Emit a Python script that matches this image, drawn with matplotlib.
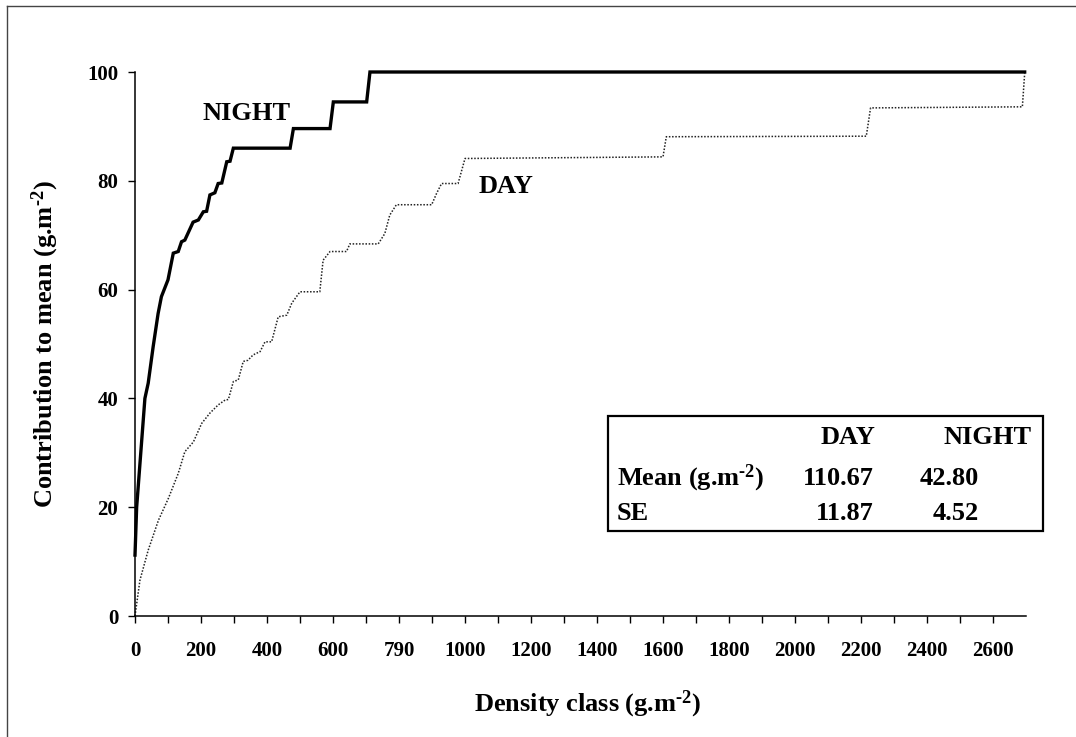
import matplotlib
matplotlib.use("Agg")
import matplotlib.pyplot as plt
from matplotlib.lines import Line2D
from matplotlib.patches import Rectangle

plt.rcParams["font.family"] = ["Liberation Serif", "DejaVu Serif"]
plt.rcParams["font.weight"] = "bold"
plt.rcParams["mathtext.fontset"] = "custom"
plt.rcParams["mathtext.rm"] = "Liberation Serif:bold"
plt.rcParams["mathtext.default"] = "rm"

# cumulative contribution to the mean, by density class (g.m-2)
night_x = [0, 5, 30, 40, 55, 70, 80, 100, 116, 131, 141, 151, 176, 192, 207, 217,
           227, 242, 252, 263, 278, 288, 298, 470, 480, 591, 601, 702, 712, 2696]
night_y = [11.2, 20, 40, 42.8, 49.5, 55.6, 58.7, 61.8, 66.7, 67.0, 68.8, 69.1, 72.4,
           72.8, 74.3, 74.4, 77.4, 77.8, 79.5, 79.6, 83.5, 83.6, 86.0, 86.0, 89.6,
           89.6, 94.5, 94.5, 100, 100]

day_x = [0, 15, 40, 71, 101, 131, 151, 177, 202, 227, 252, 273, 283, 298, 313, 328,
         342, 358, 379, 394, 414, 434, 460, 475, 500, 560, 570, 591, 641, 651, 737,
         757, 772, 792, 899, 914, 929, 979, 1000, 1600, 1610, 2216, 2229, 2689, 2696]
day_y = [0, 6.6, 12.1, 17.6, 21.6, 26.2, 30.2, 32.0, 35.4, 37.3, 38.8, 39.7, 39.8,
         43.1, 43.4, 46.8, 47.0, 48.0, 48.6, 50.4, 50.4, 55.0, 55.3, 57.5, 59.6, 59.6,
         65.4, 67.0, 67.0, 68.4, 68.4, 70.3, 73.7, 75.6, 75.6, 77.7, 79.5, 79.5, 84.1,
         84.4, 88.1, 88.2, 93.4, 93.6, 99.8]

x_major = list(range(0, 2700, 200))
x_labels = ["0", "200", "400", "600", "790", "1000", "1200", "1400", "1600",
            "1800", "2000", "2200", "2400", "2600"]
x_minor = list(range(100, 2700, 200))
y_ticks = [0, 20, 40, 60, 80, 100]

unit = r"(g.m$^{\text{-2}}$)"
stat_cols = ["DAY", "NIGHT"]
stat_rows = ["Mean " + unit, "SE"]
stat_day = ["110.67", "11.87"]
stat_night = ["42.80", "4.52"]

W, H = 1076, 737
fig = plt.figure(figsize=(W / 100, H / 100), dpi=100)
ax = fig.add_axes([135 / W, 1 - 616 / H, (1026 - 135) / W, (616 - 72) / H])


def fx(px):
    return px / W


def fy(py):
    return 1 - py / H


ax.plot(night_x, night_y, color="black", lw=2.4, clip_on=False,
        solid_joinstyle="miter")
ax.plot(day_x, day_y, color="#222222", lw=1.1, linestyle=(0, (1, 1.1)),
        clip_on=False)

ax.set_xlim(0, 2700)
ax.set_ylim(0, 100)
ax.set_xticks(x_major)
ax.set_xticklabels(x_labels)
ax.set_xticks(x_minor, minor=True)
ax.set_yticks(y_ticks)
ax.tick_params(axis="both", which="both", direction="out", length=5,
               width=1, labelsize=15)
ax.tick_params(axis="x", pad=13)
ax.tick_params(axis="y", pad=7)
for side in ["top", "right"]:
    ax.spines[side].set_visible(False)
for side in ["left", "bottom"]:
    ax.spines[side].set_linewidth(1.1)

ax.set_xlabel("Density class " + unit, fontsize=19, fontweight="bold")
ax.set_ylabel("Contribution to mean " + unit, fontsize=19, fontweight="bold")
ax.xaxis.set_label_coords((588 - 135) / 891, (616 - 689) / 544)
ax.yaxis.set_label_coords((61 - 135) / 891, 0.5)

ax.text(206, 92.3, "NIGHT", fontsize=19, fontweight="bold",
        va="center", ha="left")
ax.text(1040, 79.0, "DAY", fontsize=19, fontweight="bold",
        va="center", ha="left")

# summary box
fig.patches.append(Rectangle((fx(608), fy(531)), fx(1043) - fx(608),
                             fy(416) - fy(531), transform=fig.transFigure,
                             fill=False, edgecolor="black", lw=1.6))
row_y = [478, 513]
fig.text(fx(848), fy(438), stat_cols[0], fontsize=19, ha="center", va="center")
fig.text(fx(988), fy(438), stat_cols[1], fontsize=19, ha="center", va="center")
for i, ry in enumerate(row_y):
    fig.text(fx(617), fy(ry), stat_rows[i], fontsize=19, ha="left", va="center")
    fig.text(fx(874), fy(ry), stat_day[i], fontsize=19, ha="right", va="center")
    fig.text(fx(979), fy(ry), stat_night[i], fontsize=19, ha="right", va="center")

# page frame
fig.lines.append(Line2D([fx(7), fx(7)], [fy(6), 0], transform=fig.transFigure,
                        color="#444444", lw=1))
fig.lines.append(Line2D([fx(7), 1], [fy(6), fy(6)], transform=fig.transFigure,
                        color="#444444", lw=1))

fig.savefig("out.png", dpi=100)
